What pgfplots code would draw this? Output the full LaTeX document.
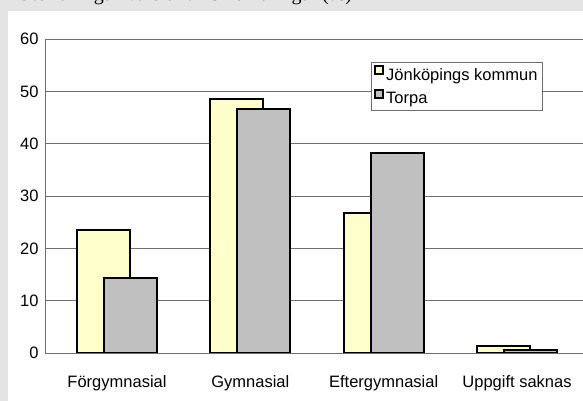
\documentclass[border=0pt]{standalone}
\usepackage{pgfplots}
\pgfplotsset{compat=1.18}
\usepackage{fontspec}
\setmainfont{Liberation Sans}
\newfontfamily\titlefont{Liberation Serif}

\definecolor{bgGray}{HTML}{E4E4E4}
\definecolor{jkpYellow}{HTML}{FFFFCC}
\definecolor{torpaGray}{HTML}{C0C0C0}
\definecolor{gridGray}{HTML}{6F6F6F}

\begin{document}
\begin{tikzpicture}[x=1pt,y=1pt]
	\useasboundingbox (0,0) rectangle (583,401);
	\clip (0,0) rectangle (583,401);
	\fill[bgGray] (0,0) rectangle (583,401);
	\fill[white] (8,0) rectangle (583,390);
	% title, mostly cut off by the top edge
	\node[anchor=base west, inner sep=0pt, font=\titlefont\fontsize{20}{24}\selectfont] at (17,400) {Utbildningsnivå bland 25--64-åringar (\%)};

	\begin{axis}[
		at={(45pt,48pt)}, anchor=south west,
		scale only axis, width=544pt, height=314pt,
		xmin=-0.54, xmax=3.54, ymin=0, ymax=60,
		ytick={0,10,...,60},
		xtick=data,
		xticklabels={Förgymnasial, Gymnasial, Eftergymnasial, Uppgift saknas},
		major tick length=0pt,
		ymajorgrids,
		grid style={draw=gridGray, line width=0.8pt},
		axis line style={draw=gridGray, line width=0.8pt},
		axis x line*=bottom, axis y line*=left,
		/pgf/number format/assume math mode=true,
		tick label style={font=\fontsize{16.5}{19}\selectfont, text=black},
		yticklabel style={xshift=-3pt},
		xticklabel style={yshift=-19pt},
		ybar=-26pt, bar width=53pt,
		legend style={at={(326pt,291pt)}, anchor=north west,
			draw=gridGray, line width=0.8pt, fill=white,
			font=\fontsize{16.5}{19}\selectfont,
			inner xsep=3pt, inner ysep=3pt,
			row sep=5pt,
			legend cell align=left},
		legend image code/.code={
			\draw[#1, draw=black, line width=1.8pt] (0pt,1pt) rectangle (8pt,9pt);
		},
	]
		\addplot[fill=jkpYellow, draw=black, line width=2pt] coordinates {
			(0,23.5) (1,48.5) (2,26.8) (3,1.3)
		};
		\addplot[fill=torpaGray, draw=black, line width=2pt] coordinates {
			(0,14.3) (1,46.7) (2,38.3) (3,0.6)
		};
		\legend{Jönköpings kommun, Torpa}
	\end{axis}
\end{tikzpicture}
\end{document}
